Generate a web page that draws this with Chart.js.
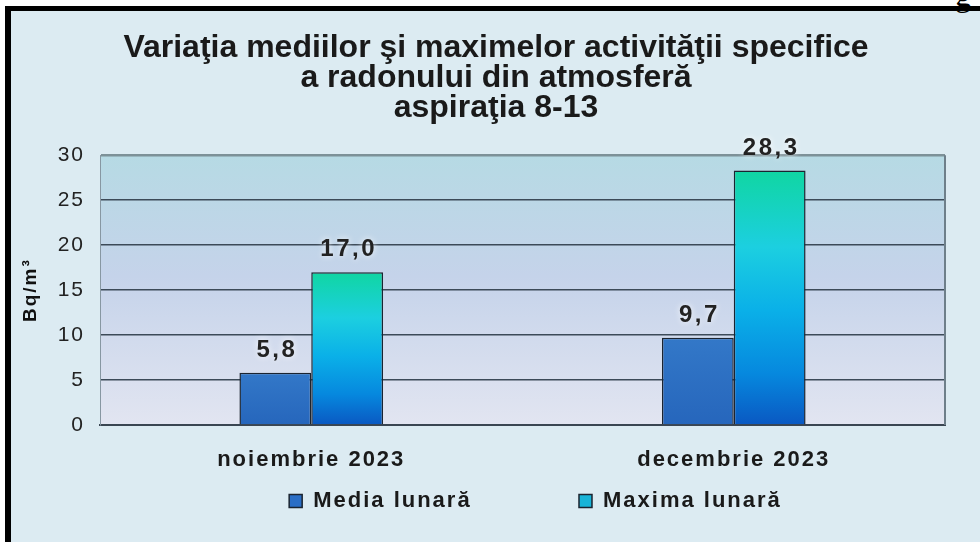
<!DOCTYPE html>
<html>
<head>
<meta charset="utf-8">
<script src="https://cdn.jsdelivr.net/npm/chart.js@4.4.1/dist/chart.umd.min.js"></script>
<style>
  html, body { margin: 0; padding: 0; background: #fff; overflow: hidden; }
  #page { position: relative; width: 980px; height: 542px; overflow: hidden; }
  #frame { position: absolute; left: 5px; top: 6px; width: 1000px; height: 560px;
           background: #dcebf2; border-left: 6px solid #000; border-top: 5px solid #000; }
  #g { position: absolute; left: 955px; top: -23px; font: 32px "Liberation Serif", serif; color: #000; }
  #wrap { position: absolute; left: 0; top: 0; width: 980px; height: 542px; }
</style>
</head>
<body>
<div id="page">
  <div id="frame"></div>
  <div id="g">g</div>
  <div id="wrap"><canvas id="chart"></canvas></div>
</div>
<script>
const categories = ['noiembrie 2023', 'decembrie 2023'];
const mediaLunara = [5.8, 9.7];
const maximaLunara = [17.0, 28.3];
const seriesNames = ['Media lunară', 'Maxima lunară'];
const titleLines = ['Variaţia mediilor şi maximelor activităţii specifice', 'a radonului din atmosferă', 'aspiraţia 8-13'];
const yMin = 0, yMax = 30, yStep = 5;
const yTitle = 'Bq/m³';

Chart.defaults.font.family = '"Liberation Sans", Arial, sans-serif';
Chart.defaults.color = '#1a1a1a';

const legendColors = ['#2a6ec6', '#18b4d8'];
const SPACING = '2px';   // the source text is drawn wide

// gradient for the "Maxima" bars, from bar top to the baseline
function maxGradient(c) {
  const chart = c.chart;
  const ys = chart.scales.y;
  if (c.type !== 'data' || !chart.chartArea || !ys) return legendColors[1];
  const top = ys.getPixelForValue(c.raw);
  const bot = ys.getPixelForValue(0);
  const g = chart.ctx.createLinearGradient(0, top, 0, bot);
  g.addColorStop(0, '#10d6a2');
  g.addColorStop(0.3, '#1ccfe0');
  g.addColorStop(0.55, '#0ab0e8');
  g.addColorStop(0.8, '#0688de');
  g.addColorStop(1, '#0a58c2');
  return g;
}

function mediaGradient(c) {
  const chart = c.chart;
  const ys = chart.scales.y;
  if (c.type !== 'data' || !chart.chartArea || !ys) return legendColors[0];
  const g = chart.ctx.createLinearGradient(0, ys.getPixelForValue(c.raw), 0, ys.getPixelForValue(0));
  g.addColorStop(0, '#3378c8');
  g.addColorStop(1, '#2666bc');
  return g;
}

// letter spacing for all text except the title
const spacing = {
  id: 'spacing',
  beforeLayout(chart) { chart.ctx.letterSpacing = SPACING; },
  afterLayout(chart) {
    // legend sits a little right of the plot centre
    if (chart.legend) { chart.legend.left += 13; chart.legend.right += 13; }
  },
  beforeDraw(chart) {
    chart.ctx.letterSpacing = SPACING;
    const t = chart.titleBlock;
    if (t && !t._patched) {
      const orig = t.draw.bind(t);
      t.draw = function () {
        const ctx = chart.ctx;
        ctx.letterSpacing = '0px';
        orig();
        ctx.letterSpacing = SPACING;
      };
      t._patched = true;
    }
  }
};

const plotBg = {
  id: 'plotBg',
  beforeDraw(chart) {
    const a = chart.chartArea, ctx = chart.ctx;
    const g = ctx.createLinearGradient(0, a.top, 0, a.bottom);
    g.addColorStop(0, '#b6dae4');
    g.addColorStop(0.45, '#c5d3ea');
    g.addColorStop(1, '#e2e5f1');
    ctx.save();
    ctx.fillStyle = g;
    ctx.fillRect(a.left, a.top, a.right - a.left, a.bottom - a.top);
    ctx.restore();
  },
  beforeDatasetsDraw(chart) {
    const a = chart.chartArea, ctx = chart.ctx;
    ctx.save();
    ctx.strokeStyle = '#6e7f8a';
    ctx.lineWidth = 2;
    ctx.beginPath();
    ctx.moveTo(a.right, a.top);
    ctx.lineTo(a.right, a.bottom);
    ctx.stroke();
    ctx.restore();
  }
};

const valueLabels = {
  id: 'valueLabels',
  afterDatasetsDraw(chart) {
    const ctx = chart.ctx;
    ctx.save();
    ctx.font = 'bold 24px "Liberation Sans", Arial, sans-serif';
    ctx.letterSpacing = '2.5px';
    ctx.fillStyle = '#222';
    ctx.textAlign = 'center';
    ctx.textBaseline = 'alphabetic';
    ctx.shadowColor = 'rgba(255,255,255,0.9)';
    ctx.shadowBlur = 6;
    chart.data.datasets.forEach((ds, i) => {
      chart.getDatasetMeta(i).data.forEach((el, j) => {
        ctx.fillText(ds.data[j].toFixed(1).replace('.', ','), el.x + 1.5, el.y - 16);
      });
    });
    ctx.restore();
  }
};

new Chart(document.getElementById('chart'), {
  type: 'bar',
  data: {
    labels: categories,
    datasets: [{
      label: seriesNames[0],
      data: mediaLunara,
      backgroundColor: mediaGradient,
      borderColor: '#1b2430',
      borderWidth: 1.5
    }, {
      label: seriesNames[1],
      data: maximaLunara,
      backgroundColor: maxGradient,
      borderColor: '#1b2430',
      borderWidth: 1.5
    }]
  },
  options: {
    responsive: true,
    maintainAspectRatio: false,
    animation: false,
    layout: { padding: { left: 12, right: 0, top: 0, bottom: 20 } },
    datasets: { bar: { categoryPercentage: 0.34, barPercentage: 1 } },
    plugins: {
      title: {
        display: true,
        text: titleLines,
        color: '#1a1a1a',
        font: { size: 32, weight: 'bold', lineHeight: 0.94 },
        padding: { top: 33, bottom: 32 }
      },
      legend: {
        display: true,
        position: 'bottom',
        fullSize: false,
        labels: {
          boxWidth: 13,
          boxHeight: 13,
          padding: 10,
          color: '#1a1a1a',
          font: { size: 22, weight: 'bold' },
          generateLabels(chart) {
            const items = Chart.defaults.plugins.legend.labels.generateLabels(chart);
            items.forEach((it, i) => {
              it.fillStyle = legendColors[i];
              it.strokeStyle = '#1b2430';
              it.lineWidth = 1.5;
              if (i === 0) it.text = it.text + ' '.repeat(12);
            });
            return items;
          }
        }
      },
      tooltip: { enabled: false }
    },
    scales: {
      x: {
        grid: { display: false },
        border: { display: true, color: '#3a4652', width: 2 },
        ticks: { padding: 14, color: '#1a1a1a', font: { size: 22, weight: 'bold' } },
        afterFit(s) { s.height = 55; }
      },
      y: {
        min: yMin,
        max: yMax,
        ticks: { stepSize: yStep, padding: 15, color: '#222', font: { size: 21 } },
        grid: {
          drawTicks: false,
          color: c => (c.tick && c.tick.value === yMax ? '#7d9198' : '#3c4a58'),
          lineWidth: c => (c.tick && c.tick.value === yMax ? 2.5 : 1.5)
        },
        border: { display: true, color: '#8797a2', width: 1 },
        title: {
          display: true,
          text: yTitle,
          color: '#111',
          font: { size: 19, weight: 'bold' },
          padding: { top: 7, bottom: 0 }
        },
        afterFit(s) { s.width = 88; }
      },
      yr: {
        position: 'right',
        display: true,
        grid: { display: false },
        border: { display: false },
        ticks: { display: false },
        afterFit(s) { s.width = 35; }
      }
    }
  },
  plugins: [spacing, plotBg, valueLabels]
});
</script>
</body>
</html>
